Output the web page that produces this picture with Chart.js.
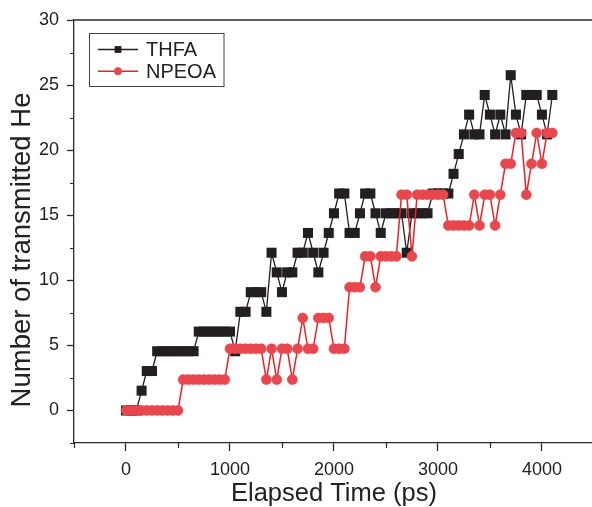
<!DOCTYPE html>
<html>
<head>
<meta charset="utf-8">
<script src="https://cdn.jsdelivr.net/npm/chart.js@4.4.1/dist/chart.umd.min.js"></script>
<style>
html,body{margin:0;padding:0;background:#fff;overflow:hidden;width:592px;height:507px}
#wrap{position:absolute;left:0;top:0;width:601px;height:507px}
canvas{display:block}
</style>
</head>
<body>
<div id="wrap"><canvas id="c" width="601" height="507"></canvas></div>
<script>
// Elapsed time (ps)
const elapsedTime = [
  0,50,100,150,200,250,300,350,400,450,
  500,550,600,650,700,750,800,850,900,950,
  1000,1050,1100,1150,1200,1250,1300,1350,1400,1450,
  1500,1550,1600,1650,1700,1750,1800,1850,1900,1950,
  2000,2050,2100,2150,2200,2250,2300,2350,2400,2450,
  2500,2550,2600,2650,2700,2750,2800,2850,2900,2950,
  3000,3050,3100,3150,3200,3250,3300,3350,3400,3450,
  3500,3550,3600,3650,3700,3750,3800,3850,3900,3950,
  4000,4050,4100
];
const thfaValues = [
  0,0,0,1.52,3.03,3.03,4.55,4.55,4.55,4.55,
  4.55,4.55,4.55,4.55,6.06,6.06,6.06,6.06,6.06,6.06,
  6.06,4.55,7.58,7.58,9.09,9.09,9.09,7.58,12.12,10.61,
  9.09,10.61,10.61,12.12,12.12,13.64,12.12,10.61,12.12,13.64,
  15.15,16.67,16.67,13.64,13.64,15.15,16.67,16.67,15.15,13.64,
  15.15,15.15,15.15,15.15,12.12,15.15,15.15,15.15,15.15,16.67,
  16.67,16.67,16.67,18.18,19.70,21.21,22.73,21.21,21.21,24.24,
  22.73,21.21,22.73,21.21,25.76,22.73,21.21,24.24,24.24,24.24,
  22.73,21.21,24.24
];
const npeoaValues = [
  0,0,0,0,0,0,0,0,0,0,
  0,2.37,2.37,2.37,2.37,2.37,2.37,2.37,2.37,2.37,
  4.74,4.74,4.74,4.74,4.74,4.74,4.74,2.37,4.74,2.37,
  4.74,4.74,2.37,4.74,7.11,4.74,4.74,7.11,7.11,7.11,
  4.74,4.74,4.74,9.47,9.47,9.47,11.84,11.84,9.47,11.84,
  11.84,11.84,11.84,16.58,16.58,11.84,16.58,16.58,16.58,16.58,
  16.58,16.58,14.21,14.21,14.21,14.21,14.21,16.58,14.21,16.58,
  16.58,14.21,16.58,18.95,18.95,21.32,21.32,16.58,18.95,21.32,
  18.95,21.32,21.32
];
const seriesNames = ['THFA', 'NPEOA'];
const xMajorTicks = [0,1000,2000,3000,4000];
const xMinorTicks = [-500,500,1500,2500,3500,4500];
const yMajorTicks = [0,5,10,15,20,25,30];
const yMinorTicks = [-2.5,2.5,7.5,12.5,17.5,22.5,27.5];
const xAxisTitle = 'Elapsed Time (ps)';
const yAxisTitle = 'Number of transmitted He';

const FONT = '"Liberation Sans", Arial, Helvetica, sans-serif';
const AXIS = '#2b2b2b';
const BLACK = '#231f20';
const RED_LINE = '#ec2027';
const RED_FILL = '#e8474d';

const toXY = vals => elapsedTime.map((t, i) => ({x: t, y: vals[i]}));

const framePlugin = {
  id: 'frame',
  afterDraw(chart) {
    const {ctx, chartArea: a, scales} = chart;
    ctx.save();
    ctx.strokeStyle = AXIS;
    ctx.lineWidth = 1.3;
    ctx.beginPath();
    ctx.moveTo(a.left, a.top); ctx.lineTo(a.right, a.top); ctx.lineTo(a.right, a.bottom);
    ctx.stroke();
    // minor ticks
    ctx.lineWidth = 1.2;
    ctx.beginPath();
    xMinorTicks.forEach(v => {
      const px = Math.round(scales.x.getPixelForValue(v)) + 0.5;
      ctx.moveTo(px, a.bottom); ctx.lineTo(px, a.bottom + 5);
    });
    yMinorTicks.forEach(v => {
      const py = Math.round(scales.y.getPixelForValue(v)) + 0.5;
      ctx.moveTo(a.left - 4, py); ctx.lineTo(a.left, py);
    });
    ctx.stroke();
    // y axis title (rotated, real text)
    ctx.fillStyle = '#222';
    ctx.font = '27.5px ' + FONT;
    ctx.textAlign = 'center';
    ctx.textBaseline = 'middle';
    ctx.translate(22, 250);
    ctx.rotate(-Math.PI / 2);
    ctx.fillText(yAxisTitle, 0, 0);
    ctx.restore();
  }
};

const legendPlugin = {
  id: 'boxLegend',
  afterDraw(chart) {
    const ctx = chart.ctx;
    ctx.save();
    ctx.strokeStyle = '#444';
    ctx.lineWidth = 1;
    ctx.strokeRect(89.5, 33.5, 134.5, 53);
    const sizes = [4.8, 3.9];
    chart.data.datasets.forEach((ds, i) => {
      const y = 49.5 + i * 21.7;
      ctx.strokeStyle = ds.borderColor;
      ctx.lineWidth = ds.borderWidth;
      ctx.beginPath(); ctx.moveTo(98, y); ctx.lineTo(138, y); ctx.stroke();
      ctx.fillStyle = ds.pointBackgroundColor;
      Chart.helpers.drawPoint(ctx, {pointStyle: ds.pointStyle, radius: sizes[i], borderWidth: 0, rotation: 0}, 118, y);
      ctx.fillStyle = '#222';
      ctx.font = '20px ' + FONT;
      ctx.textBaseline = 'middle';
      ctx.textAlign = 'left';
      ctx.fillText(ds.label, 146, y + 1);
    });
    ctx.restore();
  }
};

new Chart(document.getElementById('c'), {
  type: 'line',
  data: {
    datasets: [
      {
        label: seriesNames[0], data: toXY(thfaValues),
        borderColor: BLACK, borderWidth: 1.3,
        pointStyle: 'rect', pointRadius: 7.1, pointBorderWidth: 0,
        pointBackgroundColor: BLACK, pointBorderColor: BLACK,
        order: 1
      },
      {
        label: seriesNames[1], data: toXY(npeoaValues),
        borderColor: RED_LINE, borderWidth: 1.5,
        pointStyle: 'circle', pointRadius: 5, pointBorderWidth: 0.6,
        pointBackgroundColor: RED_FILL, pointBorderColor: RED_FILL,
        order: 0
      }
    ]
  },
  options: {
    responsive: false,
    animation: false,
    devicePixelRatio: 1,
    layout: {padding: {top: 20, right: 1, bottom: 0, left: 0}},
    plugins: {legend: {display: false}, tooltip: {enabled: false}},
    elements: {line: {tension: 0}},
    scales: {
      x: {
        type: 'linear', min: -500, max: 4500,
        afterBuildTicks: s => { s.ticks = xMajorTicks.map(v => ({value: v})); },
        afterFit: s => { s.height = 64; s.paddingLeft = 0; s.paddingRight = 0; },
        grid: {display: true, drawOnChartArea: false, drawTicks: true, tickLength: 8, tickColor: AXIS, tickWidth: 1.3},
        border: {display: true, color: AXIS, width: 1.3},
        ticks: {font: {family: FONT, size: 18}, color: '#222', padding: 8, maxRotation: 0, autoSkip: false, callback: v => String(v)},
        title: {display: true, text: xAxisTitle, color: '#222', font: {family: FONT, size: 25.5, lineHeight: 1}, padding: {top: 0, bottom: 0}}
      },
      y: {
        type: 'linear', min: -2.5, max: 30,
        afterBuildTicks: s => { s.ticks = yMajorTicks.map(v => ({value: v})); },
        afterFit: s => { s.width = 74; s.paddingTop = 0; s.paddingBottom = 0; },
        grid: {display: true, drawOnChartArea: false, drawTicks: true, tickLength: 7, tickColor: AXIS, tickWidth: 1.3},
        border: {display: true, color: AXIS, width: 1.3},
        ticks: {font: {family: FONT, size: 18}, color: '#222', padding: 8, autoSkip: false, callback: v => String(v)},
        title: {display: false}
      }
    }
  },
  plugins: [framePlugin, legendPlugin]
});
</script>
</body>
</html>
